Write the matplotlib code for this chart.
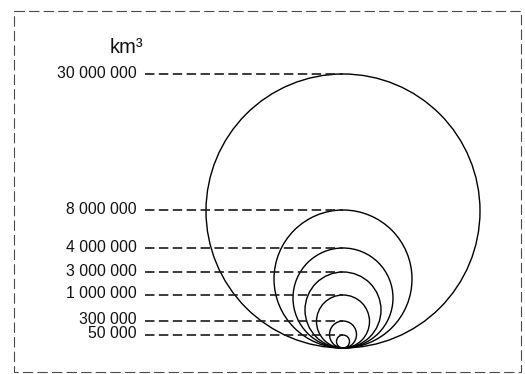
import matplotlib
matplotlib.use("Agg")
import matplotlib.pyplot as plt
from matplotlib.patches import Circle, Rectangle

plt.rcParams['font.family'] = ['Liberation Sans', 'DejaVu Sans']
plt.rcParams['lines.scale_dashes'] = False

# volumes (km³) and circle diameters (px)
labels = ["30 000 000", "8 000 000", "4 000 000", "3 000 000",
          "1 000 000", "300 000", "50 000"]
circle_size = [274, 138, 100, 76, 53, 27, 13]
unit = "km³"

fig = plt.figure(figsize=(5.25, 3.74), dpi=100)
ax = fig.add_axes([0, 0, 1, 1])
ax.set_xlim(0, 525)
ax.set_ylim(374, 0)
ax.set_aspect('equal')
ax.axis('off')

# frame around everything
ax.add_patch(Rectangle((14, 11), 507, 361, fill=False, edgecolor='#4a4a4a',
                       lw=0.8, linestyle=(0, (7.5, 3))))

cx, base = 343, 348
for lab, d in zip(labels, circle_size):
    top = base - d
    ax.add_patch(Circle((cx, base - d / 2), d / 2, fill=False,
                        edgecolor='black', lw=1.0))
    ax.plot([145, cx], [top, top], color='#1a1a1a', lw=1.2,
            linestyle=(0, (6.8, 3.2)))
    ax.text(137, top - 1, lab, ha='right', va='center', fontsize=11.3,
            color='#111111')

ax.text(110, 47, unit, ha='left', va='center', fontsize=14.5, color='#111111')

fig.savefig("out.png", dpi=100)
